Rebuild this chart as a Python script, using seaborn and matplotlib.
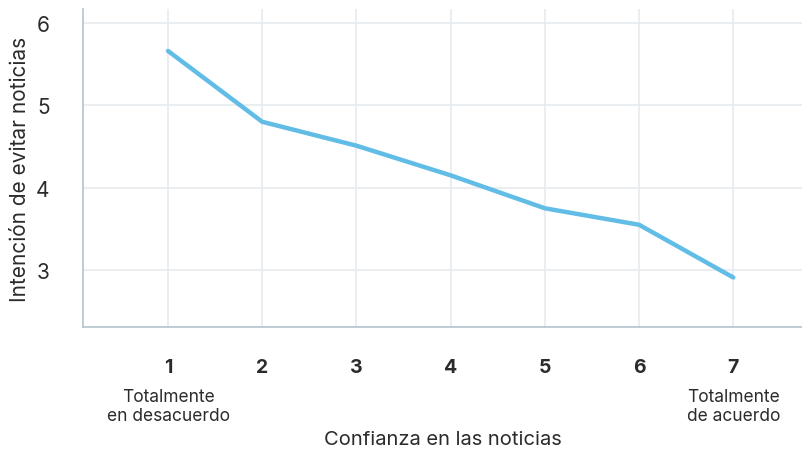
import matplotlib.pyplot as plt
import pandas as pd
import seaborn as sns

# Data
confianza = [1, 2, 3, 4, 5, 6, 7]
intencion = [5.66, 4.80, 4.51, 4.15, 3.75, 3.55, 2.91]
y_ticks = [3, 4, 5, 6]
extremos = {1: 'Totalmente\nen desacuerdo', 7: 'Totalmente\nde acuerdo'}

df = pd.DataFrame({'confianza': confianza, 'intencion': intencion})

sns.set_style('white')
plt.rcParams['font.family'] = ['Inter', 'DejaVu Sans']
text_col = '#2b2b2b'
grid_col = '#e6ebee'
spine_col = '#b3c3cc'

fig = plt.figure(figsize=(8.03, 4.52), dpi=100)
ax = fig.add_axes([0.1034, 0.274, 0.8966, 0.704])

sns.lineplot(data=df, x='confianza', y='intencion', ax=ax,
             color='#62bde6', linewidth=3.2, solid_capstyle='round')

ax.set_xlim(0.098, 7.74)
ax.set_ylim(2.307, 6.17)
ax.set_xticks(confianza)
ax.set_xticklabels([str(c) for c in confianza], fontweight='bold', fontsize=14, color=text_col)
ax.set_yticks(y_ticks)
ax.set_yticklabels([str(t) for t in y_ticks], fontsize=15, color=text_col)
ax.tick_params(axis='x', length=0, pad=22)
ax.tick_params(axis='y', length=0, pad=24)

ax.grid(True, color=grid_col, linewidth=1.2)
ax.set_axisbelow(True)
for s in ['top', 'right']:
    ax.spines[s].set_visible(False)
for s in ['left', 'bottom']:
    ax.spines[s].set_color(spine_col)
    ax.spines[s].set_linewidth(1.2)

# extreme labels under 1 and 7
for x, lab in extremos.items():
    ax.text(x, -0.19, lab, transform=ax.get_xaxis_transform(), ha='center', va='top',
            fontsize=12.5, color=text_col, linespacing=1.2)

ax.set_xlabel('Confianza en las noticias', fontsize=14.5, color=text_col, labelpad=0)
ax.xaxis.set_label_coords(0.5, -0.322)
ax.set_ylabel('Intención de evitar noticias', fontsize=15, color=text_col)
ax.yaxis.set_label_coords(-0.074, 0.5)

fig.savefig('out.png', dpi=100)
